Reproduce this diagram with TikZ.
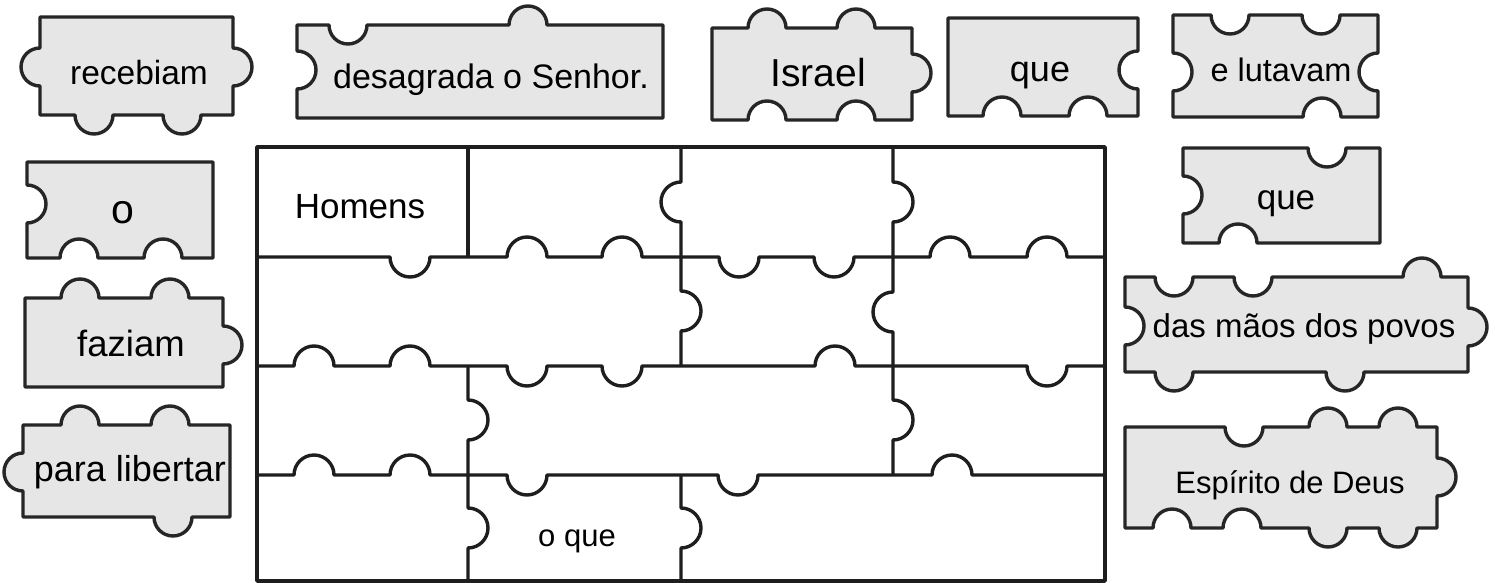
\documentclass[tikz,border=0pt]{standalone}
\usepackage{fontspec}
\setmainfont{Liberation Sans}
\definecolor{piecefill}{RGB}{230,230,230}
\definecolor{pieceline}{RGB}{38,38,38}
\definecolor{gridline}{RGB}{30,30,30}
\def\R{20}\def\K{11}
% horizontal knob, path going left to right; #3=1 bump up, -1 bump down
\newcommand\hk[3]{-- ({#1-\R},#2) .. controls ({#1-\R},{#2-(#3)*\K}) and ({#1-\K},{#2-(#3)*\R}) .. (#1,{#2-(#3)*\R}) .. controls ({#1+\K},{#2-(#3)*\R}) and ({#1+\R},{#2-(#3)*\K}) .. ({#1+\R},#2)}
% horizontal knob, path going right to left
\newcommand\hkR[3]{-- ({#1+\R},#2) .. controls ({#1+\R},{#2-(#3)*\K}) and ({#1+\K},{#2-(#3)*\R}) .. (#1,{#2-(#3)*\R}) .. controls ({#1-\K},{#2-(#3)*\R}) and ({#1-\R},{#2-(#3)*\K}) .. ({#1-\R},#2)}
% vertical knob, path going top to bottom; #3=1 bump right, -1 bump left
\newcommand\vk[3]{-- (#1,{#2-\R}) .. controls ({#1+(#3)*\K},{#2-\R}) and ({#1+(#3)*\R},{#2-\K}) .. ({#1+(#3)*\R},#2) .. controls ({#1+(#3)*\R},{#2+\K}) and ({#1+(#3)*\K},{#2+\R}) .. (#1,{#2+\R})}
% vertical knob, path going bottom to top
\newcommand\vkR[3]{-- (#1,{#2+\R}) .. controls ({#1+(#3)*\K},{#2+\R}) and ({#1+(#3)*\R},{#2+\K}) .. ({#1+(#3)*\R},#2) .. controls ({#1+(#3)*\R},{#2-\K}) and ({#1+(#3)*\K},{#2-\R}) .. (#1,{#2-\R})}
\tikzset{
  piece/.style={draw=pieceline, fill=piecefill, line width=3.4pt, line join=round},
  gridl/.style={draw=gridline, line width=3.4pt, line join=round},
  lbl/.style={inner sep=0pt, anchor=base, text=black},
}
\newcommand\fs[1]{\fontsize{#1}{#1}\selectfont}
\begin{document}
\begin{tikzpicture}[x=1pt,y=-1pt]
\useasboundingbox (0,0) rectangle (1495,583);
\fill[white] (0,0) rectangle (1495,583);

% ---------------- grid ----------------
\def\R{20}\def\K{11}
\fill[white] (257,147) rectangle (1105,581);
\draw[gridl] (257,147) rectangle (1105,581);
\draw[gridl] (257,257) \hk{410}{257}{-1} \hk{527}{257}{1} \hk{622}{257}{1} \hk{739}{257}{-1} \hk{834}{257}{-1} \hk{950}{257}{1} \hk{1047}{257}{1} -- (1105,257);
\draw[gridl] (257,366) \hk{314}{366}{1} \hk{410}{366}{1} \hk{527}{366}{-1} \hk{622}{366}{-1} \hk{835}{366}{1} \hk{1047}{366}{-1} -- (1105,366);
\draw[gridl] (257,475) \hk{314}{475}{1} \hk{410}{475}{1} \hk{527}{475}{-1} \hk{738}{475}{-1} \hk{952}{475}{1} -- (1105,475);
\draw[gridl] (468,147) -- (468,257);
\draw[gridl] (468,366) \vk{468}{420}{1} -- (468,475) \vk{468}{528}{1} -- (468,581);
\draw[gridl] (681,147) \vk{681}{202}{-1} -- (681,257) \vk{681}{311}{1} -- (681,366);
\draw[gridl] (681,475) \vk{681}{528}{1} -- (681,581);
\draw[gridl] (893,147) \vk{893}{202}{1} -- (893,257) \vk{893}{312}{-1} -- (893,366) \vk{893}{420}{1} -- (893,475);
\node[lbl, font=\fs{35}] (homens) at (360,218) {Homens};
\node[lbl, font=\fs{31}] (oque) at (577,546) {o que};

% ---------------- loose pieces ----------------
\def\R{19}\def\K{10.5}
% recebiam
\path[piece] (40,17) -- (233,17) \vk{233}{67}{1} -- (233,115) \hkR{182}{115}{-1} \hkR{94}{115}{-1} -- (40,115) \vkR{40}{67}{-1} -- cycle;
\node[lbl, font=\fs{33.5}] (recebiam) at (139,85) {recebiam};
% desagrada o Senhor.
\path[piece] (297,25) \hk{348}{25}{-1} \hk{528}{25}{1} -- (663,25) -- (663,118) -- (297,118) \vkR{297}{70}{1} -- cycle;
\node[lbl, font=\fs{34}] (desagrada) at (491,89) {desagrada o Senhor.};
% Israel
\path[piece] (712,28) \hk{767}{28}{1} \hk{856}{28}{1} -- (912,28) \vk{912}{73}{1} -- (912,120) \hkR{856}{120}{1} \hkR{767}{120}{1} -- (712,120) -- cycle;
\node[lbl, font=\fs{39}] (israel) at (818,87) {Israel};
% que (top)
\path[piece] (948,18) -- (1138,18) \vk{1138}{70}{-1} -- (1138,116) \hkR{1088}{116}{1} \hkR{1002}{116}{1} -- (948,116) -- cycle;
\node[lbl, font=\fs{36}] (que1) at (1040,82) {que};
% e lutavam
\path[piece] (1173,15) \hk{1230}{15}{-1} \hk{1321}{15}{-1} -- (1378,15) \vk{1378}{72}{-1} -- (1378,117) \hkR{1322}{117}{1} -- (1173,117) \vkR{1173}{72}{1} -- cycle;
\node[lbl, font=\fs{32.5}] (lutavam) at (1281,82) {e lutavam};
% o
\path[piece] (27,162) -- (213,162) -- (213,258) \hkR{163}{258}{1} \hkR{79}{258}{1} -- (27,258) \vkR{27}{204}{1} -- cycle;
\node[lbl, font=\fs{41}] (o) at (123,223) {o};
% faziam
\path[piece] (25,298) \hk{80}{298}{1} \hk{170}{298}{1} -- (223,298) \vk{223}{345}{1} -- (223,387) -- (25,387) -- cycle;
\node[lbl, font=\fs{36.5}] (faziam) at (131,356) {faziam};
% para libertar
\path[piece] (23,425) \hk{80}{425}{1} \hk{170}{425}{1} -- (230,425) -- (230,517) \hkR{173}{517}{-1} -- (23,517) \vkR{23}{472}{-1} -- cycle;
\node[lbl, font=\fs{36}] (libertar) at (130,481) {para libertar};
% que (right)
\path[piece] (1183,148) \hk{1327}{148}{-1} -- (1380,148) -- (1380,243) \hkR{1238}{243}{1} -- (1183,243) \vkR{1183}{195}{1} -- cycle;
\node[lbl, font=\fs{35}] (que2) at (1286,209) {que};
% das maos dos povos
\path[piece] (1125,277) \hk{1174}{277}{-1} \hk{1253}{277}{-1} \hk{1422}{277}{1} -- (1468,277) \vk{1468}{327}{1} -- (1468,372) \hkR{1345}{372}{-1} \hkR{1174}{372}{-1} -- (1125,372) \vkR{1125}{326}{1} -- cycle;
\node[lbl, font=\fs{33}] (povos) at (1304,337) {das mãos dos povos};
% Espirito de Deus
\path[piece] (1125,427) \hk{1244}{427}{-1} \hk{1328}{427}{1} \hk{1398}{427}{1} -- (1437,427) \vk{1437}{477}{1} -- (1437,528) \hkR{1398}{528}{-1} \hkR{1328}{528}{-1} \hkR{1242}{528}{1} \hkR{1172}{528}{1} -- (1125,528) -- cycle;
\node[lbl, font=\fs{31}] (espirito) at (1290,493) {Espírito de Deus};
\end{tikzpicture}
\end{document}
